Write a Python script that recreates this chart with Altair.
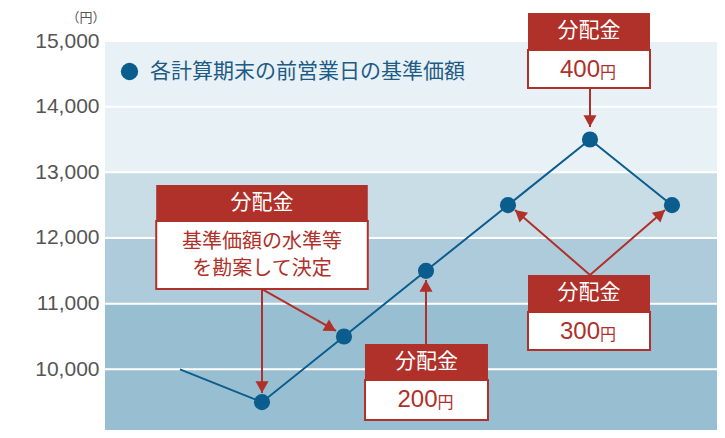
import math
import altair as alt
import pandas as pd

# ---------------- data ----------------
period = [0, 1, 2, 3, 4, 5, 6]
nav = [10000, 9500, 10500, 11500, 12500, 13500, 12500]
has_dot = [False, True, True, True, True, True, True]
series_name = "各計算期末の前営業日の基準価額"

y_ticks = [9000, 10000, 11000, 12000, 13000, 14000, 15000]
band_lo = [13000, 12000, 11000, 9000]
band_hi = [15000, 13000, 12000, 11000]
band_color = ["#e8f1f5", "#c9dde6", "#aecbdb", "#98bed1"]

# distribution call-out boxes (data coordinates)
box_x1 = [-0.29, 2.256, 4.244, 4.244]
box_x2 = [2.29, 3.756, 5.732, 5.732]
box_top = [12807, 10386, 11437, 15426]
box_mid = [12259, 9838, 10873, 14863]
box_bottom = [11223, 9229, 10295, 14284]
header_label = ["分配金", "分配金", "分配金", "分配金"]
header_y = [12533, 10112, 11155, 15145]

amount_x = [3.006, 4.988, 4.988]
amount_val = ["200", "300", "400"]
amount_y = [9533, 10569, 14558]

note_lines = ["基準価額の水準等", "を勘案して決定"]
note_x = [1.0, 1.0]
note_y = [11935, 11535]

arrow_x1 = [1, 1, 3, 5, 5, 5]
arrow_y1 = [11223, 11223, 10386, 11437, 11437, 14284]
arrow_x2 = [1, 1.902, 3, 4.085, 5.915, 5]
arrow_y2 = [9640, 10584, 11360, 12427, 12427, 13690]

# ---------------- styling ----------------
W, H = 612, 389
X_DOMAIN = [-0.9146, 6.549]
Y_DOMAIN = [9076, 15000]
BLUE = "#0b5d8e"
RED = "#b0302a"
FONT = "Liberation Sans, Noto Sans CJK JP, sans-serif"
CJK = "Noto Sans CJK JP, Liberation Sans, sans-serif"

px_x = W / (X_DOMAIN[1] - X_DOMAIN[0])
px_y = H / (Y_DOMAIN[1] - Y_DOMAIN[0])
angles = []
for a, b, c, d in zip(arrow_x1, arrow_y1, arrow_x2, arrow_y2):
    dx = (c - a) * px_x
    dy = -(d - b) * px_y
    angles.append(math.degrees(math.atan2(-dx, dy)) % 360)

xs = alt.Scale(domain=X_DOMAIN, nice=False, zero=False)
ys = alt.Scale(domain=Y_DOMAIN, nice=False, zero=False)

series_df = pd.DataFrame({"period": period, "nav": nav, "dot": has_dot,
                          "series": [series_name] * len(period)})
band_df = pd.DataFrame({"lo": band_lo, "hi": band_hi, "c": band_color})
tick_df = pd.DataFrame({"v": y_ticks})
box_df = pd.DataFrame({"x1": box_x1, "x2": box_x2, "top": box_top, "mid": box_mid,
                       "bot": box_bottom, "lab": header_label, "hy": header_y,
                       "cx": [(a + b) / 2 for a, b in zip(box_x1, box_x2)]})
amt_df = pd.DataFrame({"x": amount_x, "v": amount_val, "y": amount_y, "u": ["円"] * 3})
note_df = pd.DataFrame({"x": note_x, "y": note_y, "t": note_lines})
arrow_df = pd.DataFrame({"x1": arrow_x1, "y1": arrow_y1, "x2": arrow_x2,
                         "y2": arrow_y2, "ang": angles})

yaxis = alt.Axis(values=y_ticks, format=",.0f", domain=False, ticks=False, grid=False,
                 labelFontSize=21, labelColor="#555555", labelPadding=6,
                 labelFont=FONT, labelBound=False, labelOverlap=False,
                 title="（円）", titleAngle=0, titleAlign="right",
                 titleBaseline="middle", titleX=0, titleY=-24, titleFontSize=13,
                 titleFontWeight="normal", titleColor="#555555", titleFont=CJK)


def Y(field):
    return alt.Y(field, scale=ys, axis=yaxis)


def X(field):
    return alt.X(field, scale=xs, axis=None)


bands = alt.Chart(band_df).mark_rect().encode(
    y=Y("lo:Q"), y2="hi:Q", color=alt.Color("c:N", scale=None))

grid = alt.Chart(tick_df).mark_rule(color="white", strokeWidth=2).encode(y=Y("v:Q"))

line = alt.Chart(series_df).mark_line(color=BLUE, strokeWidth=2).encode(
    x=X("period:Q"), y=Y("nav:Q"))

dots = alt.Chart(series_df).transform_filter("datum.dot").mark_circle(
    size=260, opacity=1).encode(
    x=X("period:Q"), y=Y("nav:Q"),
    color=alt.Color("series:N", scale=alt.Scale(range=[BLUE]),
                    legend=alt.Legend(title=None, orient="none", legendX=14, legendY=20,
                                      symbolSize=300, labelFontSize=21,
                                      labelFont=CJK, labelColor="#1e5b86",
                                      labelOffset=10, labelLimit=600)))

shafts = alt.Chart(arrow_df).mark_rule(color=RED, strokeWidth=2).encode(
    x=X("x1:Q"), y=Y("y1:Q"), x2="x2:Q", y2="y2:Q")

heads = alt.Chart(arrow_df).mark_point(
    shape="M0,0 L-1,-1.8 L1,-1.8 Z", filled=True, color=RED, opacity=1, size=170).encode(
    x=X("x2:Q"), y=Y("y2:Q"), angle=alt.Angle("ang:Q", scale=None))

white_box = alt.Chart(box_df).mark_rect(fill="white", stroke=RED, strokeWidth=2).encode(
    x=X("x1:Q"), x2="x2:Q", y=Y("mid:Q"), y2="bot:Q")

header_box = alt.Chart(box_df).mark_rect(fill=RED).encode(
    x=X("x1:Q"), x2="x2:Q", y=Y("top:Q"), y2="mid:Q")

header_txt = alt.Chart(box_df).mark_text(
    color="white", fontSize=21, font=CJK, baseline="middle", align="center").encode(
    x=X("cx:Q"), y=Y("hy:Q"), text="lab:N")

note_txt = alt.Chart(note_df).mark_text(
    color=RED, fontSize=20, font=CJK, baseline="middle", align="center").encode(
    x=X("x:Q"), y=Y("y:Q"), text="t:N")

amt_txt = alt.Chart(amt_df).mark_text(
    color=RED, fontSize=24, font=FONT, baseline="middle", align="right", dx=11).encode(
    x=X("x:Q"), y=Y("y:Q"), text="v:N")

unit_txt = alt.Chart(amt_df).mark_text(
    color=RED, fontSize=16, font=CJK, baseline="middle", align="left", dx=11, dy=3).encode(
    x=X("x:Q"), y=Y("y:Q"), text="u:N")

chart = alt.layer(
    bands, grid, line, dots, shafts, heads, white_box, header_box,
    header_txt, note_txt, amt_txt, unit_txt
).properties(
    width=W, height=H,
    autosize=alt.AutoSizeParams(type="none"),
    padding={"left": 97, "top": 33, "right": 0, "bottom": 0},
    background="white",
).configure_view(stroke=None).configure(font=FONT)

chart.save("out.html", embed_options={"renderer": "svg", "actions": False})
